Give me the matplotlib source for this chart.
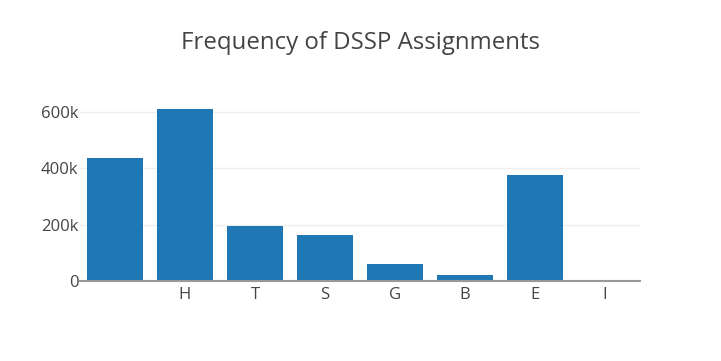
import matplotlib.pyplot as plt
from matplotlib.ticker import FuncFormatter

# DSSP assignment counts
labels = [' ', 'H', 'T', 'S', 'G', 'B', 'E', 'I']
counts = [436000, 610000, 195000, 163000, 60000, 22000, 377000, 1500]

plt.rcParams['font.family'] = ['Open Sans', 'DejaVu Sans']

fig = plt.figure(figsize=(7.21, 3.61), dpi=100)
# plot area: x 80..640, y 100..281 (pixels from top)
ax = fig.add_axes([80 / 721, 80 / 361, 560 / 721, 181 / 361])

x = range(len(labels))
ax.bar(x, counts, width=0.8, color='#1f77b4', zorder=3)

ax.set_xlim(-0.5, len(labels) - 0.5)
ax.set_ylim(0, 643000)
ax.set_xticks(list(x))
ax.set_xticklabels(labels)
ax.set_yticks([0, 200000, 400000, 600000])
ax.yaxis.set_major_formatter(FuncFormatter(lambda v, p: '0' if v == 0 else f'{int(v / 1000)}k'))

ax.grid(axis='y', color='#eeeeee', linewidth=1, zorder=0)
for s in ['top', 'right', 'left']:
    ax.spines[s].set_visible(False)
ax.spines['bottom'].set_color('#999999')
ax.spines['bottom'].set_linewidth(1.5)
ax.spines['bottom'].set_zorder(4)
ax.tick_params(length=0, labelsize=12, colors='#444444')
ax.tick_params(axis='y', pad=1)
ax.tick_params(axis='x', pad=4)

fig.text(0.5, 1 - 43 / 361, 'Frequency of DSSP Assignments', ha='center', va='center',
         fontsize=17.3, color='#444444')

fig.savefig('out.png', dpi=100)
